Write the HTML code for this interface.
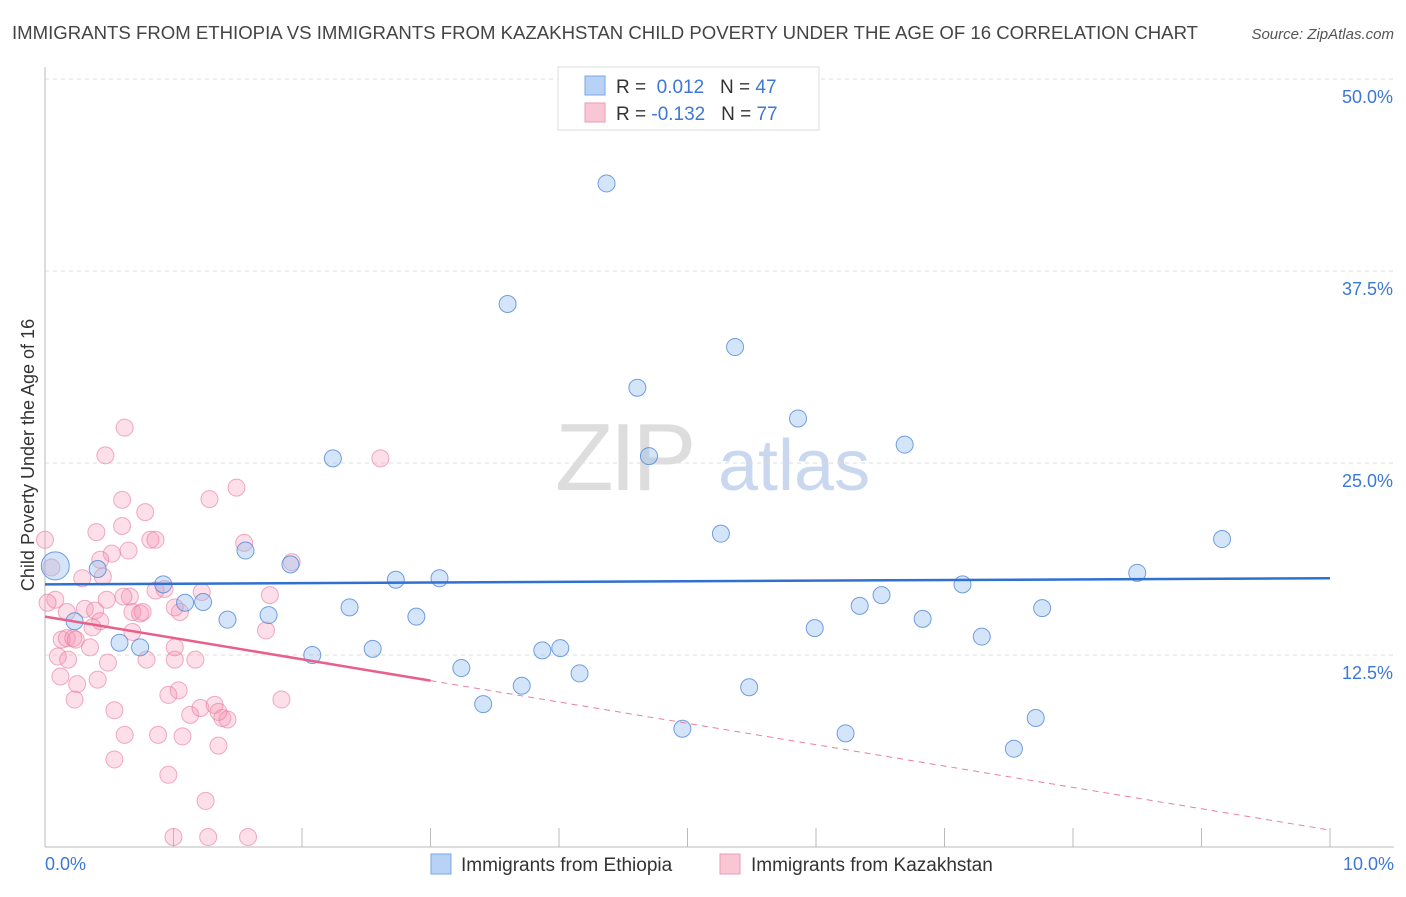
<!DOCTYPE html>
<html><head><meta charset="utf-8"><style>
body{margin:0;background:#fff;font-family:"Liberation Sans",sans-serif;}
svg text{font-family:"Liberation Sans",sans-serif;}
</style></head><body>
<svg id="chart" width="1406" height="892" xmlns="http://www.w3.org/2000/svg">
<text x="12" y="39" font-size="18.6" fill="#444">IMMIGRANTS FROM ETHIOPIA VS IMMIGRANTS FROM KAZAKHSTAN CHILD POVERTY UNDER THE AGE OF 16 CORRELATION CHART</text>
<text x="1394" y="39" font-size="15" fill="#555" text-anchor="end" font-style="italic">Source: ZipAtlas.com</text>
<g>
<text x="555" y="490" font-size="96" fill="#ddd" font-family="Liberation Serif" letter-spacing="-4">ZIP</text>
<text x="718" y="490" font-size="72" fill="#c9d8ee">atlas</text></g>
<text transform="translate(34,455) rotate(-90)" font-size="18" fill="#333" text-anchor="middle">Child Poverty Under the Age of 16</text>
<g id="grid"></g><g id="ticks"></g><g id="pts"></g><g id="trends"></g>
<g>
<rect x="558" y="67" width="261" height="63" fill="#fff" stroke="#ddd"/>
<rect x="585" y="76" width="20" height="19" fill="#b8d2f5" stroke="#7aa7e6"/>
<rect x="585" y="103" width="20" height="19" fill="#f9c6d5" stroke="#ee9ab4"/>
<text x="616" y="93" font-size="19" fill="#333">R = <tspan fill="#3b78d8">&#160;0.012</tspan>&#160;&#160;&#160;N = <tspan fill="#3b78d8">47</tspan></text>
<text x="616" y="120" font-size="19" fill="#333">R = <tspan fill="#3b78d8">-0.132</tspan>&#160;&#160;&#160;N = <tspan fill="#3b78d8">77</tspan></text>
</g>
<g>
<rect x="431" y="854" width="20" height="20" fill="#b8d2f5" stroke="#7aa7e6"/>
<text x="461" y="871" font-size="19" fill="#333">Immigrants from Ethiopia</text>
<rect x="720" y="854" width="20" height="20" fill="#f9c6d5" stroke="#ee9ab4"/>
<text x="751" y="871" font-size="19" fill="#333">Immigrants from Kazakhstan</text>
</g>
</svg>
<script>
const yTicks=[12.5,25,37.5,50];
const yTickLabels=["12.5%","25.0%","37.5%","50.0%"];
const xTickLabels=["0.0%","10.0%"];
const ethX=[0.08,0.41,0.23,0.58,0.74,0.92,1.09,1.23,1.42,1.56,1.74,1.91,2.08,2.24,2.37,2.55,2.73,2.89,3.07,3.24,3.41,3.60,3.71,3.87,4.01,4.16,4.37,4.61,4.70,4.96,5.26,5.37,5.48,5.86,5.99,6.23,6.34,6.51,6.69,6.83,7.14,7.29,7.54,7.71,7.76,8.50,9.16];
const ethY=[18.3,18.1,14.7,13.3,13.0,17.1,15.9,15.95,14.8,19.3,15.1,18.4,12.5,25.3,15.6,12.9,17.4,15.0,17.5,11.65,9.3,35.35,10.5,12.8,12.95,11.3,43.2,29.9,25.45,7.7,20.4,32.55,10.4,27.9,14.25,7.4,15.7,16.4,26.2,14.85,17.1,13.7,6.4,8.4,15.55,17.85,20.05];
const kazX=[.62,.47,.60,1.28,1.49,.78,.60,.40,.65,.52,.82,.86,1.55,0,.43,.05,.29,.45,.08,.02,.17,.31,.39,.66,.68,.74,.76,1.05,1.01,.43,.37,.13,.17,.22,.24,.10,.18,.35,.49,.79,1.01,1.17,1.01,.12,.25,.41,.23,.54,1.04,.96,1.13,1.21,1.32,1.38,1.42,1.35,.62,.54,.88,1.07,.96,1.35,1.25,1.0,1.27,1.58,1.84,2.61,1.92,1.22,1.75,1.72,.68,.93,.86,.61,.48];
const kazY=[27.3,25.5,22.6,22.65,23.4,21.8,20.9,20.5,19.3,19.1,20.0,20.0,19.8,20.0,18.7,18.2,17.5,17.6,16.1,15.9,15.3,15.5,15.4,16.3,15.3,15.2,15.3,15.3,15.6,14.7,14.3,13.5,13.6,13.6,13.5,12.4,12.2,13.0,12.0,12.2,12.2,12.2,13.0,11.1,10.6,10.9,9.6,8.9,10.2,9.9,8.6,9.05,9.25,8.4,8.3,8.8,7.3,5.7,7.3,7.2,4.7,6.6,3.0,0.65,0.65,0.65,9.6,25.3,18.55,16.6,16.4,14.1,14.0,16.8,16.7,16.3,16.1];
const ethTrend=[17.1,17.5];
const kazTrend=[15.0,1.1];
const kazSolidEnd=3.0;
const NS="http://www.w3.org/2000/svg";
const X=v=>45+v*128.5, Y=v=>847-v*15.36;
function mk(t,a,p){const e=document.createElementNS(NS,t);for(const k in a)e.setAttribute(k,a[k]);document.getElementById(p).appendChild(e);return e;}
yTicks.forEach((t,i)=>{
 const l=mk('line',{x1:45,x2:1394,y1:Y(t),y2:Y(t),stroke:'#ddd','stroke-dasharray':'4,4'},'grid');
 
 
 const tx=mk('text',{x:1393,y:Y(t)+24,'font-size':18,fill:'#3b78d8','text-anchor':'end'},'ticks');
 tx.textContent=yTickLabels[i];
 
 
});
mk('line',{x1:45,x2:45,y1:67,y2:847,stroke:'#bbb'},'grid');
mk('line',{x1:45,x2:1394,y1:847,y2:847,stroke:'#bbb'},'grid');
for(let i=1;i<=10;i++){mk('line',{x1:X(i),x2:X(i),y1:828,y2:847,stroke:'#bbb'},'grid');}
[[0,'start',45],[10,'end',1394]].forEach((d,i)=>{
 const tx=mk('text',{x:d[2],y:870,'font-size':18,fill:'#3b78d8','text-anchor':d[1]},'ticks');
 tx.textContent=xTickLabels[i];
 
 
});
kazX.forEach((x,i)=>{
 const c=mk('circle',{cx:X(x),cy:Y(kazY[i]),r:8.5,fill:'rgba(244,150,180,0.3)',stroke:'rgba(232,120,155,0.6)','stroke-width':1},'pts');
 
 
});
ethX.forEach((x,i)=>{
 const c=mk('circle',{cx:X(x),cy:Y(ethY[i]),r:i==0?14:8.5,fill:'rgba(150,190,240,0.4)',stroke:'rgba(70,130,215,0.75)','stroke-width':1},'pts');
 
 
});
const kz=v=>kazTrend[0]+(kazTrend[1]-kazTrend[0])*v/10;
let l1=mk('line',{x1:X(0),y1:Y(ethTrend[0]),x2:X(10),y2:Y(ethTrend[1]),stroke:'#2f70d0','stroke-width':2.5},'trends');


let l2=mk('line',{x1:X(0),y1:Y(kz(0)),x2:X(kazSolidEnd),y2:Y(kz(kazSolidEnd)),stroke:'#e8608a','stroke-width':2.5},'trends');


let l3=mk('line',{x1:X(kazSolidEnd),y1:Y(kz(kazSolidEnd)),x2:X(10),y2:Y(kz(10)),stroke:'#e8809f','stroke-width':1,'stroke-dasharray':'6,5'},'trends');


</script>
</body></html>
